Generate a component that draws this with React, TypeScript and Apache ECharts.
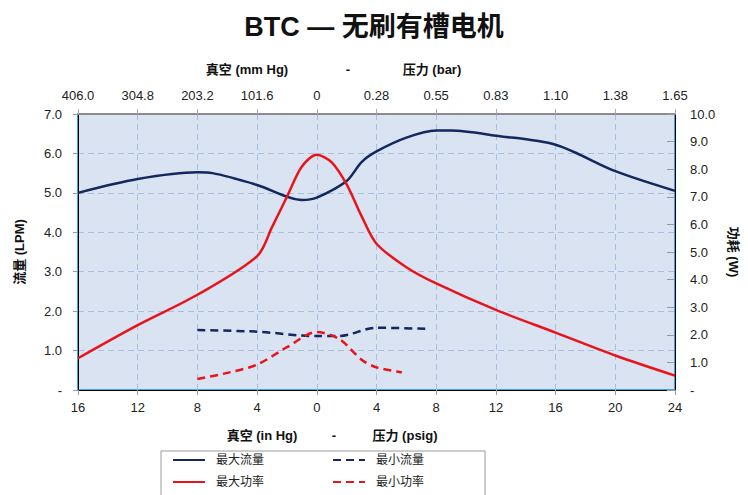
import React, { useEffect, useRef } from 'react';
import * as echarts from 'echarts';

// Top axis tick labels (mm Hg vacuum / bar pressure)
const topLabels = ['406.0', '304.8', '203.2', '101.6', '0', '0.28', '0.55', '0.83', '1.10', '1.38', '1.65'];

// Max flow (LPM, left axis)
const maxFlowX = [-16, -12, -8, -7, -4, -1, 0, 2, 3, 4, 6, 8, 9, 12, 16, 20, 24];
const maxFlowY = [5.0, 5.35, 5.52, 5.5, 5.2, 4.82, 4.88, 5.3, 5.78, 6.05, 6.4, 6.58, 6.58, 6.45, 6.22, 5.55, 5.05];

// Min flow (LPM, left axis)
const minFlowX = [-8, -4, -1, 0, 1.5, 4, 7.3];
const minFlowY = [1.52, 1.48, 1.38, 1.37, 1.37, 1.58, 1.55];

// Max power (W, right axis)
const maxPowX = [-16, -12, -8, -4, -3, -2, -1, 0, 1, 2, 3, 4, 6, 8, 12, 16, 20, 24];
const maxPowY = [1.15, 2.35, 3.45, 4.85, 5.9, 7.0, 8.1, 8.52, 8.25, 7.45, 6.3, 5.3, 4.45, 3.86, 2.9, 2.08, 1.25, 0.52];

// Min power (W, right axis)
const minPowX = [-8, -6, -4, -2, 0, 1.5, 3, 4, 5.7];
const minPowY = [0.4, 0.62, 0.92, 1.55, 2.1, 1.85, 1.1, 0.82, 0.64];

const pairs = (xs: number[], ys: number[]) => xs.map((x, i) => [x, ys[i]]);

const FONT = '"Liberation Sans", Arial, "Noto Sans CJK SC", sans-serif';
const NAVY = '#14275E';
const RED = '#E8141C';

export default function App() {
  const ref = useRef<HTMLDivElement>(null);
  useEffect(() => {
    const chart = echarts.init(ref.current!, null, { renderer: 'svg' });
    const gridLine = { show: true, lineStyle: { type: [6, 4], color: '#A9BFDD', width: 1 } };
    const legendBase = {
      top: 454, orient: 'vertical', itemWidth: 32, itemHeight: 14, itemGap: 10, padding: 0,
      itemStyle: { color: 'transparent', borderColor: 'transparent', borderWidth: 0, opacity: 0 },
      textStyle: { fontSize: 12, color: '#222', padding: [0, 0, 0, 6], fontFamily: FONT },
    };
    const titleText = (x: number, y: number, text: string) => ({
      type: 'text', x, y,
      style: { text, fontSize: 13, fontWeight: 'bold', fontFamily: FONT, fill: '#111', align: 'center', verticalAlign: 'middle' },
    });
    const option: any = {
      animation: false,
      backgroundColor: '#ffffff',
      textStyle: { fontFamily: FONT },
      title: {
        text: 'BTC — 无刷有槽电机',
        left: 'center',
        top: 8,
        textStyle: { fontSize: 27, fontWeight: 'bold', color: '#111', fontFamily: FONT },
      },
      grid: {
        left: 78,
        right: 71,
        top: 114,
        bottom: 105,
        show: true,
        backgroundColor: '#DAE3F1',
        borderColor: '#3DA5E0',
        borderWidth: 2,
      },
      graphic: [
        { type: 'rect', z: 0, shape: { x: 161, y: 451, width: 324, height: 60 }, style: { fill: '#fff', stroke: '#9a9a9a', lineWidth: 1 } },
        titleText(247, 69, '真空 (mm Hg)'),
        titleText(348, 69, '-'),
        titleText(432, 69, '压力 (bar)'),
        titleText(262, 435, '真空 (in Hg)'),
        titleText(334, 435, '-'),
        titleText(405, 435, '压力 (psig)'),
      ],
      legend: [
        { ...legendBase, left: 172, data: ['最大流量', '最大功率'] },
        { ...legendBase, left: 332, data: ['最小流量', '最小功率'] },
      ],
      xAxis: [
        {
          type: 'value', position: 'bottom', min: -16, max: 24, interval: 4,
          axisLine: { show: true, onZero: false, lineStyle: { color: '#000', width: 1 } },
          axisTick: { show: true, length: 5, lineStyle: { color: '#999' } },
          axisLabel: { formatter: (v: number) => String(Math.abs(v)), fontSize: 13, color: '#222', margin: 11 },
          splitLine: gridLine,
        },
        {
          type: 'value', position: 'top', min: -16, max: 24, interval: 4,
          axisLine: { show: true, onZero: false, lineStyle: { color: '#8C8C8C', width: 2 } },
          axisTick: { show: true, length: 5, lineStyle: { color: '#aaa' } },
          axisLabel: { formatter: (v: number) => topLabels[Math.round((v + 16) / 4)], fontSize: 13, color: '#222', margin: 12 },
          splitLine: { show: false },
        },
      ],
      yAxis: [
        {
          type: 'value', position: 'left', min: 0, max: 7, interval: 1,
          name: '流量 (LPM)', nameLocation: 'middle', nameGap: 52, nameRotate: 90,
          nameTextStyle: { fontSize: 13, fontWeight: 'bold', color: '#111', fontFamily: FONT },
          axisLine: { show: true, onZero: false, lineStyle: { color: '#000', width: 1 } },
          axisTick: { show: true, length: 5, lineStyle: { color: '#999' } },
          axisLabel: { formatter: (v: number) => (v === 0 ? '-' : v.toFixed(1)), fontSize: 13, color: '#222', margin: 16 },
          splitLine: gridLine,
        },
        {
          type: 'value', position: 'right', min: 0, max: 10, interval: 1,
          name: '功耗 (W)', nameLocation: 'middle', nameGap: 52, nameRotate: -90,
          nameTextStyle: { fontSize: 13, fontWeight: 'bold', color: '#111', fontFamily: FONT },
          axisLine: { show: true, onZero: false, lineStyle: { color: '#000', width: 1 } },
          axisTick: { show: true, inside: true, length: 8, lineStyle: { color: '#999' } },
          axisLabel: { formatter: (v: number) => (v === 0 ? '-' : v.toFixed(1)), fontSize: 13, color: '#222', margin: 15 },
          splitLine: { show: false },
        },
      ],
      series: [
        {
          name: '最大流量', type: 'line', xAxisIndex: 0, yAxisIndex: 0, smooth: 0.3, symbol: 'none',
          data: pairs(maxFlowX, maxFlowY),
          lineStyle: { color: NAVY, width: 2.5 }, itemStyle: { color: NAVY },
        },
        {
          name: '最小流量', type: 'line', xAxisIndex: 0, yAxisIndex: 0, smooth: 0.3, symbol: 'none',
          data: pairs(minFlowX, minFlowY),
          lineStyle: { color: NAVY, width: 2.5, type: [8, 5] }, itemStyle: { color: NAVY },
        },
        {
          name: '最大功率', type: 'line', xAxisIndex: 0, yAxisIndex: 1, smooth: 0.3, symbol: 'none',
          data: pairs(maxPowX, maxPowY),
          lineStyle: { color: RED, width: 2.5 }, itemStyle: { color: RED },
        },
        {
          name: '最小功率', type: 'line', xAxisIndex: 0, yAxisIndex: 1, smooth: 0.3, symbol: 'none',
          data: pairs(minPowX, minPowY),
          lineStyle: { color: RED, width: 2.5, type: [8, 5] }, itemStyle: { color: RED },
        },
      ],
    };
    chart.setOption(option);
    return () => chart.dispose();
  }, []);
  return <div ref={ref} style={{ position: 'fixed', left: 0, top: 0, width: 748, height: 495 }} />;
}
